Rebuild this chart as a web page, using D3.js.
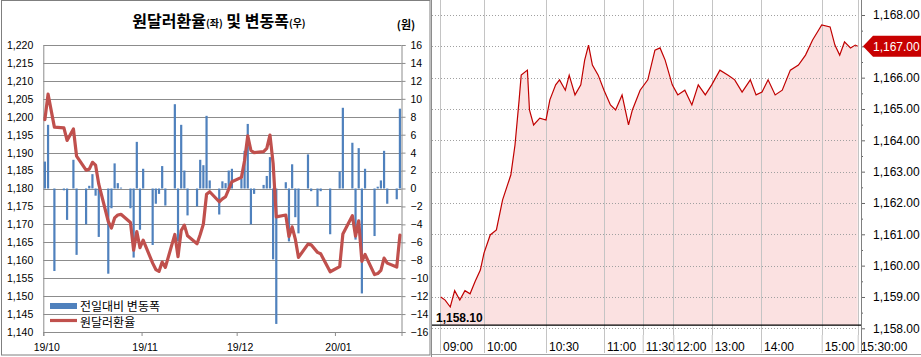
<!DOCTYPE html>
<html><head><meta charset="utf-8">
<script src="https://cdn.jsdelivr.net/npm/d3@7"></script>
<style>
body{margin:0;background:#fff}
svg{display:block}
text{font-family:"Liberation Sans",Arial,sans-serif;fill:#000}
.kr{font-family:"Noto Sans CJK KR","Noto Sans",sans-serif}
</style>
</head><body>
<svg id="c" width="921" height="357"></svg>
<script>
// ---------- left chart data ----------
const dates = ["2019-10-01","2019-10-02","2019-10-04","2019-10-07","2019-10-08","2019-10-10","2019-10-11","2019-10-14","2019-10-15","2019-10-16","2019-10-17","2019-10-18","2019-10-21","2019-10-22","2019-10-23","2019-10-24","2019-10-25","2019-10-28","2019-10-29","2019-10-30","2019-10-31",
"2019-11-01","2019-11-04","2019-11-05","2019-11-06","2019-11-07","2019-11-08","2019-11-11","2019-11-12","2019-11-13","2019-11-14","2019-11-15","2019-11-18","2019-11-19","2019-11-20","2019-11-21","2019-11-22","2019-11-25","2019-11-26","2019-11-27","2019-11-28","2019-11-29",
"2019-12-02","2019-12-03","2019-12-04","2019-12-05","2019-12-06","2019-12-09","2019-12-10","2019-12-11","2019-12-12","2019-12-13","2019-12-16","2019-12-17","2019-12-18","2019-12-19","2019-12-20","2019-12-23","2019-12-24","2019-12-26","2019-12-27","2019-12-30",
"2020-01-02","2020-01-03","2020-01-06","2020-01-07","2020-01-08","2020-01-09","2020-01-10","2020-01-13","2020-01-14","2020-01-15","2020-01-16","2020-01-17","2020-01-20","2020-01-21"];
const rate = [1199.2,1206.3,1197.1,1196.9,1193.4,1196.6,1189.0,1185.1,1185.4,1187.3,1186.5,1181.2,1170.8,1169.0,1171.8,1172.6,1172.8,1170.5,1162.8,1168.0,1163.5,
1165.6,1159.2,1157.4,1156.9,1159.5,1158.0,1167.2,1161.0,1168.3,1169.8,1166.8,1164.6,1167.2,1170.1,1178.4,1179.1,1176.3,1177.1,1177.7,1179.8,1181.9,
1183.1,1187.8,1194.7,1190.6,1190.0,1190.3,1191.2,1194.9,1187.0,1172.1,1172.6,1166.6,1169.3,1165.9,1160.8,1164.5,1164.3,1162.2,1161.8,1156.8,
1158.2,1167.3,1172.4,1166.7,1171.0,1159.7,1161.6,1156.0,1156.3,1157.2,1160.6,1159.2,1158.1,1167.0];
const change = [3.0,7.1,-9.2,-0.2,-3.5,3.2,-7.4,-4.0,0.3,1.6,-0.8,-5.4,-9.5,-2.2,2.8,0.6,0.1,-2.2,-7.7,5.2,-4.6,
2.2,-6.3,-1.7,-0.6,2.5,-1.9,9.4,-5.9,7.1,2.0,-3.0,-2.0,3.2,2.6,8.1,0.9,-2.9,0.8,0.6,2.0,2.2,
1.1,4.2,7.2,-4.0,-0.6,0.4,1.4,3.5,-7.9,-15.1,0.7,-5.9,2.7,-3.2,-5.0,3.8,-0.3,-2.0,-0.3,-5.1,
1.9,9.0,5.1,-5.7,4.5,-11.7,2.2,-5.3,0.2,0.9,4.2,-1.7,-1.2,8.9];
const leftTicks = [1140,1145,1150,1155,1160,1165,1170,1175,1180,1185,1190,1195,1200,1205,1210,1215,1220];
const rightTicks = [-16,-14,-12,-10,-8,-6,-4,-2,0,2,4,6,8,10,12,14,16];
const monthTicks = ["2019-10-01","2019-11-01","2019-12-01","2020-01-01"];
const monthLabels = ["19/10","19/11","19/12","20/01"];
const legendLabels = ["전일대비 변동폭","원달러환율"];

// ---------- right chart data (intraday) ----------
const tTimes = ["09:01","09:07","09:14","09:20","09:27","09:34","09:41","09:48","09:55","10:00","10:03","10:06","10:09","10:13","10:15","10:17","10:18","10:21","10:22","10:24","10:27","10:30","10:32","10:35","10:37","10:40","10:42","10:45","10:48","10:50","10:52","10:54","10:57","11:00","11:05","11:09","11:14","11:19","11:22","11:28","11:35","11:42","11:47","11:52","11:59","12:07","12:18","12:29","12:39","12:50","13:00","13:10","13:20","13:28","13:37","13:47","13:54","14:01","14:07","14:14","14:21","14:29","14:37","14:44","14:51","14:57","15:00","15:07","15:11","15:15","15:19","15:24","15:28","15:30"];
const tPrices = [1159.0,1158.9,1158.68,1159.2,1158.9,1159.2,1159.1,1159.5,1159.86,1160.4,1160.98,1161.14,1162.1,1162.9,1163.85,1165.29,1166.08,1166.24,1164.97,1164.49,1164.71,1164.65,1165.29,1165.77,1165.93,1165.6,1166.08,1165.45,1165.77,1166.56,1167.04,1166.4,1166.08,1165.6,1165.13,1164.97,1165.45,1164.49,1164.97,1165.6,1165.93,1166.88,1166.95,1166.56,1165.77,1165.45,1165.6,1165.13,1165.77,1165.45,1165.77,1166.24,1166.08,1165.93,1165.54,1165.93,1165.45,1165.54,1165.93,1165.45,1165.6,1166.24,1166.4,1166.72,1167.2,1167.52,1167.68,1167.62,1167.04,1166.72,1167.14,1166.95,1167.04,1167.0];
const timeTicks = ["09:00","10:00","10:30","11:00","11:30","12:00","13:00","14:00","15:00","15:30"];
const timeTickLabels = ["09:00","10:00","10:30","11:00","11:30","12:00","13:00","14:00","15:00","15:30:00"];
const priceTicks = [1158,1159,1160,1161,1162,1163,1164,1165,1166,1167,1168];
const priceMinor = [1157.5,1158.5,1159.5,1160.5,1161.5,1162.5,1163.5,1164.5,1165.5,1166.5,1167.5];
const prevClose = 1158.10;
const lastPrice = 1167.00;

// ---------- drawing ----------
const svg = d3.select("#c");
const pd = d3.timeParse("%Y-%m-%d");
const DAY = 86400000;

svg.append("rect").attr("x",1.5).attr("y",0.5).attr("width",428.5).attr("height",354.5)
  .attr("fill","none").attr("stroke","#7f7f7f");

// ===== LEFT =====
const L = {x0:43.3, x1:401.5, y0:332, y1:45};
const x = d3.scaleTime().domain([pd("2019-10-01"), pd("2020-01-22")]).range([L.x0, L.x1]);
const yL = d3.scaleLinear().domain([1140,1220]).range([L.y0, L.y1]);
const yR = d3.scaleLinear().domain([-16,16]).range([L.y0, L.y1]);

svg.append("g").selectAll("line").data(leftTicks).join("line")
  .attr("x1",L.x0).attr("x2",L.x1).attr("y1",d=>Math.round(yL(d))+0.5).attr("y2",d=>Math.round(yL(d))+0.5)
  .attr("stroke","#8c8c8c").attr("stroke-width",1);

const gL = svg.append("g").attr("transform",`translate(${L.x0},0)`)
  .call(d3.axisLeft(yL).tickValues(leftTicks).tickFormat(d3.format(",")).tickSize(0).tickPadding(10));
gL.select(".domain").attr("stroke","#8c8c8c");
gL.selectAll("text").style("font-size","10.5px").attr("fill","#222");

const gR = svg.append("g").attr("transform",`translate(${L.x1},0)`)
  .call(d3.axisRight(yR).tickValues(rightTicks).tickSize(4).tickPadding(5));
gR.select(".domain").attr("stroke","#8c8c8c");
gR.selectAll("line").attr("stroke","#8c8c8c");
gR.selectAll("text").style("font-size","10.5px").attr("fill","#222");

const gB = svg.append("g").attr("transform",`translate(0,${L.y0})`)
  .call(d3.axisBottom(x).tickValues(monthTicks.map(pd)).tickSize(4).tickPadding(8)
    .tickFormat((d,i)=>monthLabels[i]));
gB.select(".domain").attr("stroke","#8c8c8c");
gB.selectAll("line").attr("stroke","#8c8c8c");
gB.selectAll("text").style("font-size","10.5px").attr("dx",3).attr("fill","#222");

const mid = d => new Date(pd(d).getTime()+DAY/2);
svg.append("g").selectAll("rect").data(dates).join("rect")
  .attr("x",(d)=>x(mid(d))-1.1).attr("width",2.2)
  .attr("y",(d,i)=>yR(Math.max(0,change[i])))
  .attr("height",(d,i)=>Math.abs(yR(change[i])-yR(0)))
  .attr("fill","#4f81bd");

svg.append("path").datum(dates)
  .attr("d", d3.line().x(d=>x(mid(d))).y((d,i)=>yL(rate[i])))
  .attr("fill","none").attr("stroke","#c0504d").attr("stroke-width",3.2)
  .attr("stroke-linejoin","round").attr("stroke-linecap","round");

const title = svg.append("text").attr("class","kr").attr("x",219).attr("y",27)
  .attr("text-anchor","middle").style("font-size","16px").style("font-weight","700").attr("fill","#111");
title.append("tspan").text("원달러환율");
title.append("tspan").text("(좌)").style("font-size","10px");
title.append("tspan").text(" 및 변동폭");
title.append("tspan").text("(우)").style("font-size","10px");
svg.append("text").attr("class","kr").attr("x",406).attr("y",29).attr("text-anchor","middle")
  .style("font-size","11px").style("font-weight","700").text("(원)");

svg.append("rect").attr("x",50).attr("y",303).attr("width",27).attr("height",6).attr("fill","#4f81bd");
svg.append("line").attr("x1",50).attr("x2",77).attr("y1",320.5).attr("y2",320.5)
  .attr("stroke","#c0504d").attr("stroke-width",3.2);
svg.append("g").selectAll("text").data(legendLabels).join("text").attr("class","kr")
  .attr("x",80).attr("y",(d,i)=>311+i*15.5).style("font-size","12px").text(d=>d);

// ===== RIGHT =====
const pt = d3.timeParse("%H:%M");
const xT = d3.scaleTime().domain(timeTicks.map(pt))
  .range([440,484,546,604,642.7,673.3,711.7,761,821.7,857.7]);
const yP = d3.scaleLinear().domain([1158,1168]).range([328.3,15]);
const R = {x0:432, x1:861, top:0, bot:335};

svg.append("line").attr("x1",431.5).attr("x2",431.5).attr("y1",0).attr("y2",357).attr("stroke","#8c8c8c");

svg.append("path").datum(tTimes)
  .attr("d", d3.area().x(d=>xT(pt(d))).y0(yP(prevClose)).y1((d,i)=>yP(tPrices[i])))
  .attr("fill","#fbe1e1");

svg.append("g").selectAll("line").data(priceTicks).join("line")
  .attr("x1",R.x0).attr("x2",R.x1-3).attr("y1",d=>Math.round(yP(d))+0.5).attr("y2",d=>Math.round(yP(d))+0.5)
  .attr("stroke","#a0a0a0").attr("stroke-dasharray","1,2");

svg.append("g").selectAll("line").data(timeTicks).join("line")
  .attr("x1",d=>Math.round(xT(pt(d)))+0.5).attr("x2",d=>Math.round(xT(pt(d)))+0.5)
  .attr("y1",0).attr("y2",R.bot).attr("stroke","#c4c4c4");
const gT = svg.append("g").attr("transform",`translate(0,${R.bot})`)
  .call(d3.axisBottom(xT).tickValues(timeTicks.map(pt)).tickSize(18).tickFormat((d,i)=>timeTickLabels[i]));
gT.select(".domain").remove();
gT.selectAll("line").attr("stroke","#c4c4c4");
gT.selectAll("text").attr("text-anchor","start").attr("x",2.5).attr("y",12).attr("dy","0.35em")
  .style("font-size","12px").attr("fill","#111");

svg.append("path").datum(tTimes)
  .attr("d", d3.line().x(d=>xT(pt(d))).y((d,i)=>yP(tPrices[i])))
  .attr("fill","none").attr("stroke","#c00000").attr("stroke-width",1.2);

svg.append("line").attr("x1",R.x0).attr("x2",R.x1).attr("y1",yP(prevClose)).attr("y2",yP(prevClose))
  .attr("stroke","#000").attr("stroke-width",1.2);
svg.append("text").attr("x",436).attr("y",yP(prevClose)-3).style("font-size","12px").style("font-weight","700")
  .text(d3.format(",.2f")(prevClose));

const gP = svg.append("g").attr("transform",`translate(${R.x1},0)`)
  .call(d3.axisRight(yP).tickValues(priceTicks).tickSize(4).tickPadding(8).tickFormat(d3.format(",.2f")));
gP.select(".domain").remove();
gP.selectAll("line").attr("stroke","#666");
gP.selectAll("text").style("font-size","12px").attr("fill","#111");
svg.append("g").attr("transform",`translate(${R.x1},0)`)
  .call(d3.axisRight(yP).tickValues(priceMinor).tickSize(2).tickFormat(""))
  .call(g=>{g.select(".domain").remove(); g.selectAll("line").attr("stroke","#666");});
svg.append("line").attr("x1",R.x1+0.5).attr("x2",R.x1+0.5).attr("y1",0).attr("y2",353).attr("stroke","#808080");
svg.append("line").attr("x1",432).attr("x2",921).attr("y1",354.5).attr("y2",354.5).attr("stroke","#a0a0a0");

const ly = yP(lastPrice);
svg.append("path").attr("d",`M${R.x1+2},${ly} L${R.x1+12},${ly-10.5} L921,${ly-10.5} L921,${ly+10.5} L${R.x1+12},${ly+10.5} Z`)
  .attr("fill","#c80000");
svg.append("text").attr("x",R.x1+12).attr("y",ly).attr("dy","0.36em").style("font-size","12px")
  .style("fill","#fff").text(d3.format(",.2f")(lastPrice));
</script>
</body></html>
